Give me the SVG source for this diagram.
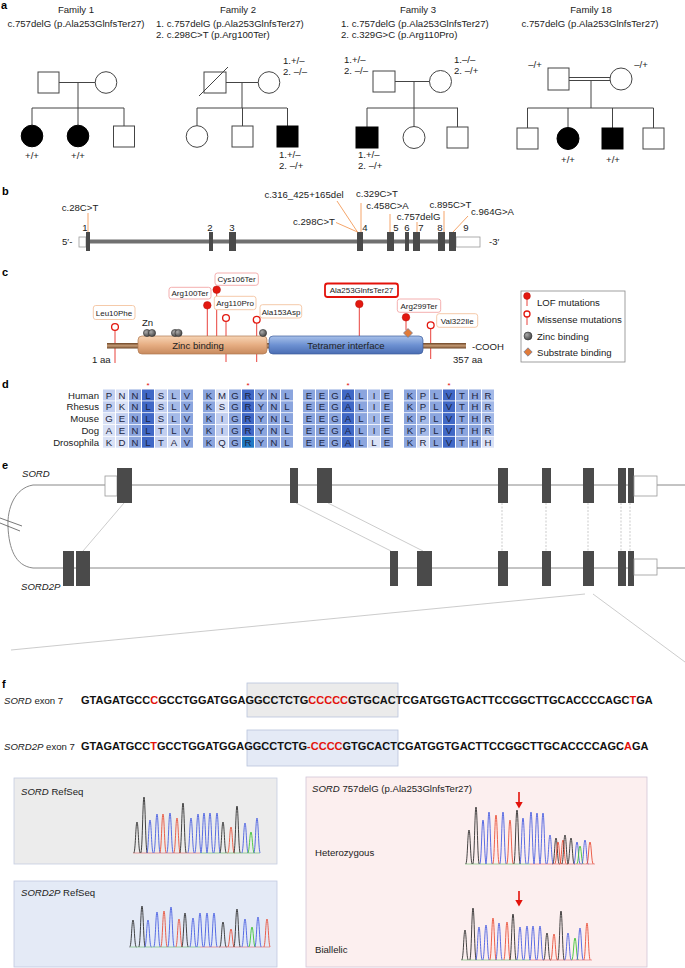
<svg xmlns="http://www.w3.org/2000/svg" width="685" height="968" viewBox="0 0 685 968">
<style>
text{font-family:"Liberation Sans",Arial,sans-serif;font-size:9.6px;fill:#222}
.pl{font-weight:bold;font-size:11px;fill:#000}
.mid{text-anchor:middle}
.end{text-anchor:end}
.pd{fill:none;stroke:#444;stroke-width:1}
.pf{fill:#000;stroke:#000;stroke-width:1}
.ex{fill:#4a4a4a}
.utr{fill:#fff;stroke:#999;stroke-width:0.8}
.ml{stroke:#f5a56a;stroke-width:1;fill:none}
.stem{stroke:#e8423c;stroke-width:1}
.lof{fill:#e3180f;stroke:#b5120c;stroke-width:0.5}
.mis{fill:#fff;stroke:#e3180f;stroke-width:1.3}
.bl{fill:#fff;stroke:#f3a6a6;stroke-width:0.9}
.bm{fill:#fff;stroke:#f4c4a0;stroke-width:0.9}
.lab{font-size:8px;text-anchor:middle}
.star{font-size:8px;text-anchor:middle;fill:#e3120b}
.d{fill:#4068c6}.m{fill:#8ba5de}.h{fill:#a4b9e7}.l{fill:#c2cff0}.v{fill:#d9e1f6}.t{fill:#1f78c4}
.aa{font-size:9.6px;text-anchor:middle;fill:#1c2440}
.sq{font-weight:bold;font-size:11px;fill:#111}
.r{fill:#e3120b}
.gl{stroke:#888;stroke-width:1;fill:none}
.cn{stroke:#aaa;stroke-width:0.6;fill:none}
.cd{stroke:#aaa;stroke-width:0.6;stroke-dasharray:2 1.5;fill:none}
.k{stroke:#222}.b{stroke:#3d55e0}.rd{stroke:#e8472e}.g{stroke:#35c22c}
use{stroke-width:0.85;fill:none}
.arw{fill:#e3120b}
.base{stroke-width:0.6;fill:none}
</style>
<defs>
<linearGradient id="gz" x1="0" y1="0" x2="0" y2="1"><stop offset="0" stop-color="#f7d5b5"/><stop offset="0.5" stop-color="#e6ad82"/><stop offset="1" stop-color="#c78a5e"/></linearGradient>
<linearGradient id="gt" x1="0" y1="0" x2="0" y2="1"><stop offset="0" stop-color="#a8c1ea"/><stop offset="0.5" stop-color="#6d91d2"/><stop offset="1" stop-color="#4a6db3"/></linearGradient>
<linearGradient id="gb" x1="0" y1="0" x2="0" y2="1"><stop offset="0" stop-color="#6e4526"/><stop offset="0.5" stop-color="#c49a74"/><stop offset="1" stop-color="#6e4526"/></linearGradient>
<radialGradient id="gzn" cx="0.35" cy="0.35" r="0.7"><stop offset="0" stop-color="#aaa"/><stop offset="1" stop-color="#444"/></radialGradient>
<path id="pk" d="M-3.3 0 C-1.5 0 -1.3 -1 0 -1 C1.3 -1 1.5 0 3.3 0" vector-effect="non-scaling-stroke"/>
</defs>
<rect width="685" height="968" fill="#fff"/>

<!-- Panel labels -->
<text class="pl" x="1" y="9">a</text>
<text class="pl" x="2" y="195">b</text>
<text class="pl" x="2" y="276">c</text>
<text class="pl" x="2" y="388">d</text>
<text class="pl" x="2" y="469">e</text>
<text class="pl" x="2" y="688">f</text>

<!-- Panel a -->
<g id="family1">
<text class="mid" x="76" y="13">Family 1</text>
<text class="mid" x="76" y="27">c.757delG (p.Ala253GlnfsTer27)</text>
<rect class="pd" x="38" y="72" width="21" height="21"/>
<circle class="pd" cx="106" cy="82.5" r="10.8"/>
<path class="pd" d="M59 82.5H95.2M78 82.5V108M32 108H124M32 108V125M78 108V125M124 108V126"/>
<circle class="pf" cx="32" cy="136" r="10.8"/>
<circle class="pf" cx="78" cy="136" r="10.8"/>
<rect class="pd" x="113.5" y="126" width="21" height="21"/>
<text class="mid" x="32" y="158.5">+/+</text>
<text class="mid" x="78" y="158.5">+/+</text>
</g>
<g id="family2">
<text class="mid" x="238" y="13">Family 2</text>
<text x="156" y="27">1. c.757delG (p.Ala253GlnfsTer27)</text>
<text x="156" y="38">2. c.298C&gt;T (p.Arg100Ter)</text>
<rect class="pd" x="204" y="72" width="22" height="21"/>
<path class="pd" d="M199 96L228 67"/>
<circle class="pd" cx="269" cy="82.5" r="10.8"/>
<path class="pd" d="M226 82.5H258.2M242 82.5V108M197 108H287M197 108V125.7M242.5 108V126M287.5 108V126"/>
<circle class="pd" cx="197" cy="136.5" r="10.8"/>
<rect class="pd" x="232" y="126" width="21" height="21"/>
<rect class="pf" x="277" y="126" width="21" height="21"/>
<text x="283" y="64">1.+/–</text>
<text x="283" y="74.5">2. –/–</text>
<text x="279" y="158">1.+/–</text>
<text x="279" y="169">2. –/+</text>
</g>
<g id="family3">
<text class="mid" x="418" y="13">Family 3</text>
<text x="341" y="27">1. c.757delG (p.Ala253GlnfsTer27)</text>
<text x="341" y="38">2. c.329G&gt;C (p.Arg110Pro)</text>
<rect class="pd" x="373" y="71" width="22" height="21"/>
<circle class="pd" cx="440.5" cy="81.5" r="11"/>
<path class="pd" d="M395 81.5H429.5M414 81.5V108M367 108H458M367 108V127M414 108V126.5M457.5 108V127"/>
<rect class="pf" x="356" y="127" width="22" height="21"/>
<circle class="pd" cx="414" cy="137.5" r="11"/>
<rect class="pd" x="447" y="127" width="21" height="21"/>
<text x="344" y="63">1.+/–</text>
<text x="344" y="74">2. –/–</text>
<text x="454" y="63">1.–/–</text>
<text x="454" y="74">2. –/+</text>
<text x="358" y="158">1.+/–</text>
<text x="358" y="169">2. –/+</text>
</g>
<g id="family18">
<text class="mid" x="591" y="13">Family 18</text>
<text class="mid" x="590" y="27">c.757delG (p.Ala253GlnfsTer27)</text>
<rect class="pd" x="548" y="68" width="21" height="22"/>
<circle class="pd" cx="621" cy="79" r="11"/>
<path class="pd" d="M569 77.5H610M569 80.5H610M591 80.5V108M527.5 108H653.5M527.5 108V128M568 108V127.5M612.5 108V128M653.5 108V128"/>
<rect class="pd" x="517" y="128" width="21" height="21"/>
<circle class="pf" cx="568" cy="138.5" r="11"/>
<rect class="pf" x="602" y="128" width="21" height="21"/>
<rect class="pd" x="643" y="128" width="21" height="21"/>
<text class="mid" x="535" y="68">–/+</text>
<text class="mid" x="641" y="68">–/+</text>
<text class="mid" x="568" y="163">+/+</text>
<text class="mid" x="613" y="163">+/+</text>
</g>

<!-- Panel b -->
<g id="gene-b">
<rect x="86" y="239.5" width="370" height="4" fill="#707070"/>
<rect class="utr" x="79" y="237" width="7" height="10"/>
<rect class="utr" x="456" y="237" width="24" height="10"/>
<rect class="ex" x="86" y="232" width="4" height="19"/>
<rect class="ex" x="209" y="232" width="4" height="19"/>
<rect class="ex" x="229" y="232" width="7" height="19"/>
<rect class="ex" x="357" y="232" width="6" height="19"/>
<rect class="ex" x="387" y="232" width="7" height="19"/>
<rect class="ex" x="405" y="232" width="4" height="19"/>
<rect class="ex" x="413" y="232" width="7" height="19"/>
<rect class="ex" x="438" y="232" width="7" height="19"/>
<rect class="ex" x="449" y="232" width="7" height="19"/>
<text x="62" y="244.5">5′-</text>
<text x="489" y="244.5">-3′</text>
<text class="mid" x="85" y="230.5">1</text>
<text class="mid" x="210" y="230.5">2</text>
<text class="mid" x="232" y="230.5">3</text>
<text class="mid" x="365" y="230.5">4</text>
<text class="mid" x="396" y="230.5">5</text>
<text class="mid" x="407" y="230.5">6</text>
<text class="mid" x="421" y="230.5">7</text>
<text class="mid" x="440" y="230.5">8</text>
<text class="mid" x="466" y="230.5">9</text>
</g>
<g id="mutations-b">
<path class="ml" d="M88 213V232M337 201L357.5 232M336 222.5L357.5 232M361 203V232M390 214V232M417 222V232M444 211V232M468 216L453 232"/>
<text class="mid" x="80" y="210.5">c.28C&gt;T</text>
<text class="mid" x="304" y="197.5">c.316_425+165del</text>
<text class="mid" x="314" y="224.5">c.298C&gt;T</text>
<text class="mid" x="377" y="196.5">c.329C&gt;T</text>
<text class="mid" x="387.5" y="208.5">c.458C&gt;A</text>
<text class="mid" x="418.5" y="219.5">c.757delG</text>
<text class="mid" x="450.5" y="207.5">c.895C&gt;T</text>
<text class="mid" x="492.5" y="214.5">c.964G&gt;A</text>
</g>

<!-- Panel c -->
<g id="protein-c">
<path class="stem" d="M115 330V363M226 321V362M256.7 323V362M430.7 328.5V359M207.3 305V336M216.7 290V336M359.3 304V336M406 317V330"/>
<rect x="107" y="343" width="359" height="5.5" fill="url(#gb)"/>
<rect x="138" y="336" width="129" height="18" rx="4" fill="url(#gz)" stroke="#b07a52" stroke-width="0.7"/>
<rect x="269" y="336" width="154" height="18" rx="4" fill="url(#gt)" stroke="#3c5c9c" stroke-width="0.7"/>
<text class="mid" x="198" y="348.5">Zinc binding</text>
<text class="mid" x="346" y="348.5">Tetramer interface</text>
<text x="92" y="362.5">1 aa</text>
<text x="453" y="362.5">357 aa</text>
<text x="472" y="349.5">-COOH</text>
<text x="142" y="325.5">Zn</text>
<circle cx="147" cy="333" r="3.6" fill="url(#gzn)" stroke="#333" stroke-width="0.6"/>
<circle cx="152" cy="333" r="3.6" fill="url(#gzn)" stroke="#333" stroke-width="0.6"/>
<circle cx="175" cy="333" r="3.6" fill="url(#gzn)" stroke="#333" stroke-width="0.6"/>
<circle cx="178.5" cy="333" r="3.6" fill="url(#gzn)" stroke="#333" stroke-width="0.6"/>
<circle cx="263" cy="333" r="3.6" fill="url(#gzn)" stroke="#333" stroke-width="0.6"/>
<polygon points="408,328.5 412.5,333 408,337.5 403.5,333" fill="#e07b39" stroke="#6a7a99" stroke-width="0.7"/>
</g>
<g id="mut-leu10phe"><rect class="bm" x="93.3" y="305.5" width="41.7" height="14" rx="2.5"/><text class="lab" x="114" y="315.5">Leu10Phe</text><circle class="mis" cx="115" cy="327" r="3.4"/></g>
<g id="mut-arg100ter"><rect class="bl" x="169" y="287.3" width="42" height="11.7" rx="2.5"/><text class="lab" x="190" y="296">Arg100Ter</text><circle class="lof" cx="207.3" cy="305.3" r="3.8"/></g>
<g id="mut-cys106ter"><rect class="bl" x="215" y="273" width="43.3" height="12.3" rx="2.5"/><text class="lab" x="236.6" y="282">Cys106Ter</text><circle class="lof" cx="216.7" cy="289.7" r="3.8"/></g>
<g id="mut-arg110pro"><rect class="bm" x="214.3" y="296.3" width="41.7" height="13.4" rx="2.5"/><text class="lab" x="235" y="306">Arg110Pro</text><circle class="mis" cx="226" cy="318" r="3.4"/></g>
<g id="mut-ala153asp"><rect class="bm" x="260" y="304.7" width="41.7" height="13.3" rx="2.5"/><text class="lab" x="281" y="314.5">Ala153Asp</text><circle class="mis" cx="256.7" cy="319.7" r="3.4"/></g>
<g id="mut-ala253"><rect x="325" y="283.5" width="73" height="13.5" rx="2.5" fill="#fff" stroke="#e3120b" stroke-width="1.8"/><text class="lab" x="361.5" y="293.3">Ala253GlnfsTer27</text><circle class="lof" cx="359.3" cy="304" r="3.8"/></g>
<g id="mut-arg299ter"><rect class="bl" x="397.3" y="299" width="43.4" height="13.3" rx="2.5"/><text class="lab" x="419" y="308.7">Arg299Ter</text><circle class="lof" cx="406" cy="317.3" r="3.8"/></g>
<g id="mut-val322ile"><rect class="bm" x="436.7" y="313.7" width="41" height="13.6" rx="2.5"/><text class="lab" x="457.2" y="323.5">Val322Ile</text><circle class="mis" cx="430.7" cy="325.3" r="3.4"/></g>
<g id="legend-c">
<rect x="521" y="291" width="104" height="71" fill="#fff" stroke="#888" stroke-width="0.8"/>
<path class="stem" d="M527 296V306M527 317V325"/>
<circle class="lof" cx="527" cy="296" r="3.4"/>
<circle class="mis" cx="527" cy="314" r="3"/>
<circle cx="528" cy="336" r="4" fill="url(#gzn)" stroke="#333" stroke-width="0.6"/>
<polygon points="528,347.8 532.2,352 528,356.2 523.8,352" fill="#e07b39" stroke="#6a7a99" stroke-width="0.7"/>
<text x="537" y="305.5">LOF mutations</text>
<text x="537" y="322.5">Missense mutations</text>
<text x="537" y="339.5">Zinc binding</text>
<text x="537" y="355.5">Substrate binding</text>
</g>

<!-- Panel d -->
<g id="alignment-d">
<text class="star" x="148" y="388.3">*</text>
<text class="star" x="248" y="388.3">*</text>
<text class="star" x="348" y="388.3">*</text>
<text class="star" x="449" y="388.3">*</text>
<text class="end" x="99" y="398.5">Human</text>
<text class="end" x="99" y="410.3">Rhesus</text>
<text class="end" x="99" y="422.1">Mouse</text>
<text class="end" x="99" y="433.9">Dog</text>
<text class="end" x="99" y="445.7">Drosophila</text>
<g id="row-human">
<rect class="l" x="103" y="389.5" width="12" height="11"/><rect class="v" x="116" y="389.5" width="12" height="11"/><rect class="m" x="129" y="389.5" width="12" height="11"/><rect class="d" x="142" y="389.5" width="12" height="11"/><rect class="l" x="155" y="389.5" width="12" height="11"/><rect class="h" x="168" y="389.5" width="12" height="11"/><rect class="m" x="181" y="389.5" width="12" height="11"/>
<rect class="m" x="203" y="389.5" width="12" height="11"/><rect class="v" x="216" y="389.5" width="12" height="11"/><rect class="m" x="229" y="389.5" width="12" height="11"/><rect class="d" x="242" y="389.5" width="12" height="11"/><rect class="m" x="255" y="389.5" width="12" height="11"/><rect class="m" x="268" y="389.5" width="12" height="11"/><rect class="m" x="281" y="389.5" width="12" height="11"/>
<rect class="m" x="303" y="389.5" width="12" height="11"/><rect class="m" x="316" y="389.5" width="12" height="11"/><rect class="m" x="329" y="389.5" width="12" height="11"/><rect class="d" x="342" y="389.5" width="12" height="11"/><rect class="m" x="355" y="389.5" width="12" height="11"/><rect class="h" x="368" y="389.5" width="12" height="11"/><rect class="m" x="381" y="389.5" width="12" height="11"/>
<rect class="m" x="404" y="389.5" width="12" height="11"/><rect class="h" x="417" y="389.5" width="12" height="11"/><rect class="m" x="430" y="389.5" width="12" height="11"/><rect class="d" x="443" y="389.5" width="12" height="11"/><rect class="m" x="456" y="389.5" width="12" height="11"/><rect class="m" x="469" y="389.5" width="12" height="11"/><rect class="h" x="482" y="389.5" width="12" height="11"/>
<text class="aa" x="109 122 135 148 161 174 187" y="398.5">PNNLSLV</text>
<text class="aa" x="209 222 235 248 261 274 287" y="398.5">KMGRYNL</text>
<text class="aa" x="309 322 335 348 361 374 387" y="398.5">EEGALIE</text>
<text class="aa" x="410 423 436 449 462 475 488" y="398.5">KPLVTHR</text>
</g>
<g id="row-rhesus">
<rect class="l" x="103" y="401.3" width="12" height="11"/><rect class="v" x="116" y="401.3" width="12" height="11"/><rect class="m" x="129" y="401.3" width="12" height="11"/><rect class="d" x="142" y="401.3" width="12" height="11"/><rect class="l" x="155" y="401.3" width="12" height="11"/><rect class="h" x="168" y="401.3" width="12" height="11"/><rect class="m" x="181" y="401.3" width="12" height="11"/>
<rect class="m" x="203" y="401.3" width="12" height="11"/><rect class="v" x="216" y="401.3" width="12" height="11"/><rect class="m" x="229" y="401.3" width="12" height="11"/><rect class="d" x="242" y="401.3" width="12" height="11"/><rect class="m" x="255" y="401.3" width="12" height="11"/><rect class="m" x="268" y="401.3" width="12" height="11"/><rect class="m" x="281" y="401.3" width="12" height="11"/>
<rect class="m" x="303" y="401.3" width="12" height="11"/><rect class="m" x="316" y="401.3" width="12" height="11"/><rect class="m" x="329" y="401.3" width="12" height="11"/><rect class="d" x="342" y="401.3" width="12" height="11"/><rect class="m" x="355" y="401.3" width="12" height="11"/><rect class="h" x="368" y="401.3" width="12" height="11"/><rect class="m" x="381" y="401.3" width="12" height="11"/>
<rect class="m" x="404" y="401.3" width="12" height="11"/><rect class="h" x="417" y="401.3" width="12" height="11"/><rect class="m" x="430" y="401.3" width="12" height="11"/><rect class="d" x="443" y="401.3" width="12" height="11"/><rect class="m" x="456" y="401.3" width="12" height="11"/><rect class="m" x="469" y="401.3" width="12" height="11"/><rect class="h" x="482" y="401.3" width="12" height="11"/>
<text class="aa" x="109 122 135 148 161 174 187" y="410.3">PKNLSLV</text>
<text class="aa" x="209 222 235 248 261 274 287" y="410.3">KSGRYNL</text>
<text class="aa" x="309 322 335 348 361 374 387" y="410.3">EEGALIE</text>
<text class="aa" x="410 423 436 449 462 475 488" y="410.3">KPLVTHR</text>
</g>
<g id="row-mouse">
<rect class="v" x="103" y="413.1" width="12" height="11"/><rect class="l" x="116" y="413.1" width="12" height="11"/><rect class="m" x="129" y="413.1" width="12" height="11"/><rect class="d" x="142" y="413.1" width="12" height="11"/><rect class="l" x="155" y="413.1" width="12" height="11"/><rect class="h" x="168" y="413.1" width="12" height="11"/><rect class="m" x="181" y="413.1" width="12" height="11"/>
<rect class="m" x="203" y="413.1" width="12" height="11"/><rect class="l" x="216" y="413.1" width="12" height="11"/><rect class="m" x="229" y="413.1" width="12" height="11"/><rect class="d" x="242" y="413.1" width="12" height="11"/><rect class="m" x="255" y="413.1" width="12" height="11"/><rect class="m" x="268" y="413.1" width="12" height="11"/><rect class="m" x="281" y="413.1" width="12" height="11"/>
<rect class="m" x="303" y="413.1" width="12" height="11"/><rect class="m" x="316" y="413.1" width="12" height="11"/><rect class="m" x="329" y="413.1" width="12" height="11"/><rect class="d" x="342" y="413.1" width="12" height="11"/><rect class="m" x="355" y="413.1" width="12" height="11"/><rect class="h" x="368" y="413.1" width="12" height="11"/><rect class="m" x="381" y="413.1" width="12" height="11"/>
<rect class="m" x="404" y="413.1" width="12" height="11"/><rect class="h" x="417" y="413.1" width="12" height="11"/><rect class="m" x="430" y="413.1" width="12" height="11"/><rect class="d" x="443" y="413.1" width="12" height="11"/><rect class="m" x="456" y="413.1" width="12" height="11"/><rect class="m" x="469" y="413.1" width="12" height="11"/><rect class="h" x="482" y="413.1" width="12" height="11"/>
<text class="aa" x="109 122 135 148 161 174 187" y="422.1">GENLSLV</text>
<text class="aa" x="209 222 235 248 261 274 287" y="422.1">KIGRYNL</text>
<text class="aa" x="309 322 335 348 361 374 387" y="422.1">EEGALIE</text>
<text class="aa" x="410 423 436 449 462 475 488" y="422.1">KPLVTHR</text>
</g>
<g id="row-dog">
<rect class="v" x="103" y="424.9" width="12" height="11"/><rect class="l" x="116" y="424.9" width="12" height="11"/><rect class="m" x="129" y="424.9" width="12" height="11"/><rect class="d" x="142" y="424.9" width="12" height="11"/><rect class="l" x="155" y="424.9" width="12" height="11"/><rect class="h" x="168" y="424.9" width="12" height="11"/><rect class="m" x="181" y="424.9" width="12" height="11"/>
<rect class="m" x="203" y="424.9" width="12" height="11"/><rect class="l" x="216" y="424.9" width="12" height="11"/><rect class="m" x="229" y="424.9" width="12" height="11"/><rect class="d" x="242" y="424.9" width="12" height="11"/><rect class="m" x="255" y="424.9" width="12" height="11"/><rect class="m" x="268" y="424.9" width="12" height="11"/><rect class="m" x="281" y="424.9" width="12" height="11"/>
<rect class="m" x="303" y="424.9" width="12" height="11"/><rect class="m" x="316" y="424.9" width="12" height="11"/><rect class="m" x="329" y="424.9" width="12" height="11"/><rect class="d" x="342" y="424.9" width="12" height="11"/><rect class="m" x="355" y="424.9" width="12" height="11"/><rect class="h" x="368" y="424.9" width="12" height="11"/><rect class="m" x="381" y="424.9" width="12" height="11"/>
<rect class="m" x="404" y="424.9" width="12" height="11"/><rect class="h" x="417" y="424.9" width="12" height="11"/><rect class="m" x="430" y="424.9" width="12" height="11"/><rect class="d" x="443" y="424.9" width="12" height="11"/><rect class="m" x="456" y="424.9" width="12" height="11"/><rect class="m" x="469" y="424.9" width="12" height="11"/><rect class="h" x="482" y="424.9" width="12" height="11"/>
<text class="aa" x="109 122 135 148 161 174 187" y="433.9">AENLTLV</text>
<text class="aa" x="209 222 235 248 261 274 287" y="433.9">KIGRYNL</text>
<text class="aa" x="309 322 335 348 361 374 387" y="433.9">EEGALIE</text>
<text class="aa" x="410 423 436 449 462 475 488" y="433.9">KPLVTHR</text>
</g>
<g id="row-drosophila">
<rect class="v" x="103" y="436.7" width="12" height="11"/><rect class="v" x="116" y="436.7" width="12" height="11"/><rect class="m" x="129" y="436.7" width="12" height="11"/><rect class="d" x="142" y="436.7" width="12" height="11"/><rect class="l" x="155" y="436.7" width="12" height="11"/><rect class="v" x="168" y="436.7" width="12" height="11"/><rect class="m" x="181" y="436.7" width="12" height="11"/>
<rect class="m" x="203" y="436.7" width="12" height="11"/><rect class="v" x="216" y="436.7" width="12" height="11"/><rect class="m" x="229" y="436.7" width="12" height="11"/><rect class="t" x="242" y="436.7" width="12" height="11"/><rect class="m" x="255" y="436.7" width="12" height="11"/><rect class="m" x="268" y="436.7" width="12" height="11"/><rect class="m" x="281" y="436.7" width="12" height="11"/>
<rect class="m" x="303" y="436.7" width="12" height="11"/><rect class="m" x="316" y="436.7" width="12" height="11"/><rect class="m" x="329" y="436.7" width="12" height="11"/><rect class="d" x="342" y="436.7" width="12" height="11"/><rect class="m" x="355" y="436.7" width="12" height="11"/><rect class="v" x="368" y="436.7" width="12" height="11"/><rect class="m" x="381" y="436.7" width="12" height="11"/>
<rect class="m" x="404" y="436.7" width="12" height="11"/><rect class="v" x="417" y="436.7" width="12" height="11"/><rect class="m" x="430" y="436.7" width="12" height="11"/><rect class="d" x="443" y="436.7" width="12" height="11"/><rect class="m" x="456" y="436.7" width="12" height="11"/><rect class="m" x="469" y="436.7" width="12" height="11"/><rect class="v" x="482" y="436.7" width="12" height="11"/>
<text class="aa" x="109 122 135 148 161 174 187" y="445.7">KDNLTAV</text>
<text class="aa" x="209 222 235 248 261 274 287" y="445.7">KQGRYNL</text>
<text class="aa" x="309 322 335 348 361 374 387" y="445.7">EEGALLE</text>
<text class="aa" x="410 423 436 449 462 475 488" y="445.7">KRLVTHH</text>
</g>
</g>

<!-- Panel e -->
<g id="connectors-e">
<path class="cn" d="M124 503L83 551M296 503L391 551M328 503L423 551"/>
<path class="cd" d="M502 503V551M546 503V551M588 503V551M621 503V551M630 503V551"/>
<path class="cn" d="M585 594L11 650M593 594L685 662"/>
</g>
<g id="sord">
<text x="22" y="476.5" style="font-style:italic">SORD</text>
<path class="gl" d="M685 485H33C15 488 7 508 8 527C9 548 15 566 33 568H685"/>
<path d="M0 518L22 526M0 523L20 531" stroke="#555" stroke-width="0.8"/>
<rect class="utr" x="105" y="476" width="12" height="20"/>
<rect class="ex" x="117" y="468" width="15" height="35"/>
<rect class="ex" x="290" y="468" width="8" height="35"/>
<rect class="ex" x="317" y="468" width="15" height="35"/>
<rect class="ex" x="498" y="468" width="10" height="35"/>
<rect class="ex" x="542" y="468" width="9" height="35"/>
<rect class="ex" x="583" y="468" width="11" height="35"/>
<rect class="ex" x="618" y="468" width="8" height="35"/>
<rect class="ex" x="628" y="468" width="6" height="35"/>
<rect class="utr" x="634" y="476" width="23" height="20"/>
</g>
<g id="sord2p">
<text x="21" y="590" style="font-style:italic">SORD2P</text>
<rect class="ex" x="63" y="551" width="11" height="35"/>
<rect class="ex" x="76" y="551" width="14" height="35"/>
<rect class="ex" x="390" y="551" width="8" height="35"/>
<rect class="ex" x="417" y="551" width="15" height="35"/>
<rect class="ex" x="498" y="551" width="10" height="35"/>
<rect class="ex" x="542" y="551" width="9" height="35"/>
<rect class="ex" x="583" y="551" width="11" height="35"/>
<rect class="ex" x="618" y="551" width="8" height="35"/>
<rect class="ex" x="628" y="551" width="6" height="35"/>
<rect class="utr" x="634" y="559" width="23" height="16"/>
</g>

<!-- Panel f sequences -->
<g id="seq-sord">
<rect x="247" y="683" width="151" height="34" fill="#ebebeb" stroke="#b8c4dc" stroke-width="0.8"/>
<text x="4" y="703.5"><tspan style="font-style:italic">SORD</tspan> exon 7</text>
<text class="sq" x="81" y="704">GTAGATGCC<tspan class="r">C</tspan>GCCTGGATGGAGGCCTCTG<tspan class="r">CCCCC</tspan>GTGCACTCGATGGTGACTTCCGGCTTGCACCCCAGC<tspan class="r">T</tspan>GA</text>
</g>
<g id="seq-sord2p">
<rect x="247" y="730" width="151" height="36" fill="#e4eaf6" stroke="#b8c4dc" stroke-width="0.8"/>
<text x="4" y="749.5"><tspan style="font-style:italic">SORD2P</tspan> exon 7</text>
<text class="sq" x="81" y="750">GTAGATGCC<tspan class="r">T</tspan>GCCTGGATGGAGGCCTCTG<tspan class="r">-CCCC</tspan>GTGCACTCGATGGTGACTTCCGGCTTGCACCCCAGC<tspan class="r">A</tspan>GA</text>
</g>

<!-- Panel f chromatograms -->
<g id="chrom-sord">
<rect x="14" y="778" width="263" height="86" fill="#ececec" stroke="#c6cde2" stroke-width="0.8"/>
<text x="21" y="794.5"><tspan style="font-style:italic">SORD</tspan> RefSeq</text>
<path class="base" d="M133 853H200" stroke="#d66"/><path class="base" d="M200 853H260" stroke="#6b6"/>
<use href="#pk" class="k" transform="translate(137 853) scale(1 31)"/>
<use href="#pk" class="k" transform="translate(144 853) scale(1 56)"/>
<use href="#pk" class="b" transform="translate(150 853) scale(1 33)"/>
<use href="#pk" class="b" transform="translate(157 853) scale(1 39)"/>
<use href="#pk" class="rd" transform="translate(163 853) scale(1 39)"/>
<use href="#pk" class="b" transform="translate(170 853) scale(1 40)"/>
<use href="#pk" class="rd" transform="translate(177 853) scale(1 35)"/>
<use href="#pk" class="k" transform="translate(183 853) scale(1 50)"/>
<use href="#pk" class="b" transform="translate(191 853) scale(1 35)"/>
<use href="#pk" class="b" transform="translate(198 853) scale(1 39)"/>
<use href="#pk" class="b" transform="translate(204 853) scale(1 40)"/>
<use href="#pk" class="b" transform="translate(210 853) scale(1 40)"/>
<use href="#pk" class="b" transform="translate(217 853) scale(1 40)"/>
<use href="#pk" class="k" transform="translate(223 853) scale(1 31)"/>
<use href="#pk" class="rd" transform="translate(231 853) scale(1 26)"/>
<use href="#pk" class="k" transform="translate(237 853) scale(1 47)"/>
<use href="#pk" class="b" transform="translate(245 853) scale(1 30)"/>
<use href="#pk" class="g" transform="translate(251 853) scale(1 21)"/>
<use href="#pk" class="b" transform="translate(257 853) scale(1 35)"/>
</g>
<g id="chrom-sord2p">
<rect x="14" y="881" width="263" height="86" fill="#e4eaf6" stroke="#c0c8e0" stroke-width="0.8"/>
<text x="21" y="895.5"><tspan style="font-style:italic">SORD2P</tspan> RefSeq</text>
<path class="base" d="M130 947H200" stroke="#6b6"/><path class="base" d="M200 947H270" stroke="#d66"/>
<use href="#pk" class="k" transform="translate(133 947) scale(1 27)"/>
<use href="#pk" class="k" transform="translate(142 947) scale(1 41)"/>
<use href="#pk" class="b" transform="translate(148 947) scale(1 27)"/>
<use href="#pk" class="b" transform="translate(157 947) scale(1 35)"/>
<use href="#pk" class="rd" transform="translate(164 947) scale(1 36)"/>
<use href="#pk" class="b" transform="translate(171 947) scale(1 40)"/>
<use href="#pk" class="rd" transform="translate(179 947) scale(1 28)"/>
<use href="#pk" class="k" transform="translate(185 947) scale(1 34)"/>
<use href="#pk" class="b" transform="translate(193 947) scale(1 29)"/>
<use href="#pk" class="b" transform="translate(200 947) scale(1 34)"/>
<use href="#pk" class="b" transform="translate(207 947) scale(1 34)"/>
<use href="#pk" class="b" transform="translate(214 947) scale(1 34)"/>
<use href="#pk" class="k" transform="translate(223 947) scale(1 25)"/>
<use href="#pk" class="rd" transform="translate(231 947) scale(1 18)"/>
<use href="#pk" class="k" transform="translate(237 947) scale(1 38)"/>
<use href="#pk" class="b" transform="translate(245 947) scale(1 28)"/>
<use href="#pk" class="g" transform="translate(252 947) scale(1 20)"/>
<use href="#pk" class="b" transform="translate(258 947) scale(1 30)"/>
<use href="#pk" class="rd" transform="translate(267 947) scale(1 28)"/>
</g>
<g id="chrom-757delg">
<rect x="306" y="777" width="341" height="190" fill="#fcefef" stroke="#d2c6d8" stroke-width="0.8"/>
<text x="312" y="791.5"><tspan style="font-style:italic">SORD</tspan> 757delG (p.Ala253GlnfsTer27)</text>
<text x="315" y="855.5">Heterozygous</text>
<text x="315" y="952.5">Biallelic</text>
<path d="M519 792V803" stroke="#e3120b" stroke-width="1.6"/>
<polygon class="arw" points="515.3,802 522.7,802 519,808.5"/>
<path d="M519 891V901" stroke="#e3120b" stroke-width="1.6"/>
<polygon class="arw" points="515.3,900 522.7,900 519,906.5"/>
<path class="base" d="M465 864H530" stroke="#6b6"/><path class="base" d="M530 864H595" stroke="#d66"/>
<path class="base" d="M461 960H530" stroke="#6b6"/><path class="base" d="M530 960H592" stroke="#d66"/>
<use href="#pk" class="k" transform="translate(469 864) scale(1 34)"/>
<use href="#pk" class="k" transform="translate(476 864) scale(1 57)"/>
<use href="#pk" class="b" transform="translate(483 864) scale(1 44)"/>
<use href="#pk" class="b" transform="translate(489 864) scale(1 52)"/>
<use href="#pk" class="rd" transform="translate(496 864) scale(1 49)"/>
<use href="#pk" class="b" transform="translate(503 864) scale(1 52)"/>
<use href="#pk" class="rd" transform="translate(510 864) scale(1 44)"/>
<use href="#pk" class="k" transform="translate(517 864) scale(1 54)"/>
<use href="#pk" class="b" transform="translate(523 864) scale(1 46)"/>
<use href="#pk" class="b" transform="translate(531 864) scale(1 52)"/>
<use href="#pk" class="b" transform="translate(537 864) scale(1 51)"/>
<use href="#pk" class="b" transform="translate(543 864) scale(1 51)"/>
<use href="#pk" class="b" transform="translate(550 864) scale(1 29)"/>
<use href="#pk" class="k" transform="translate(556 864) scale(1 26)"/>
<use href="#pk" class="rd" transform="translate(558 864) scale(1 22)"/>
<use href="#pk" class="rd" transform="translate(563 864) scale(1 24)"/>
<use href="#pk" class="k" transform="translate(565 864) scale(1 29)"/>
<use href="#pk" class="k" transform="translate(571 864) scale(1 26)"/>
<use href="#pk" class="b" transform="translate(577 864) scale(1 22)"/>
<use href="#pk" class="g" transform="translate(580 864) scale(1 18)"/>
<use href="#pk" class="b" transform="translate(585 864) scale(1 24)"/>
<use href="#pk" class="rd" transform="translate(590 864) scale(1 22)"/>
<use href="#pk" class="k" transform="translate(465 960) scale(1 30)"/>
<use href="#pk" class="k" transform="translate(473 960) scale(1 52)"/>
<use href="#pk" class="b" transform="translate(479 960) scale(1 33)"/>
<use href="#pk" class="b" transform="translate(486 960) scale(1 35)"/>
<use href="#pk" class="rd" transform="translate(493 960) scale(1 42)"/>
<use href="#pk" class="b" transform="translate(499 960) scale(1 37)"/>
<use href="#pk" class="rd" transform="translate(507 960) scale(1 38)"/>
<use href="#pk" class="k" transform="translate(513 960) scale(1 46)"/>
<use href="#pk" class="b" transform="translate(520 960) scale(1 33)"/>
<use href="#pk" class="b" transform="translate(527 960) scale(1 34)"/>
<use href="#pk" class="b" transform="translate(533 960) scale(1 34)"/>
<use href="#pk" class="b" transform="translate(540 960) scale(1 34)"/>
<use href="#pk" class="k" transform="translate(547 960) scale(1 27)"/>
<use href="#pk" class="rd" transform="translate(554 960) scale(1 26)"/>
<use href="#pk" class="k" transform="translate(561 960) scale(1 49)"/>
<use href="#pk" class="b" transform="translate(568 960) scale(1 27)"/>
<use href="#pk" class="g" transform="translate(575 960) scale(1 22)"/>
<use href="#pk" class="b" transform="translate(580 960) scale(1 32)"/>
<use href="#pk" class="rd" transform="translate(587 960) scale(1 37)"/>
</g>
</svg>
